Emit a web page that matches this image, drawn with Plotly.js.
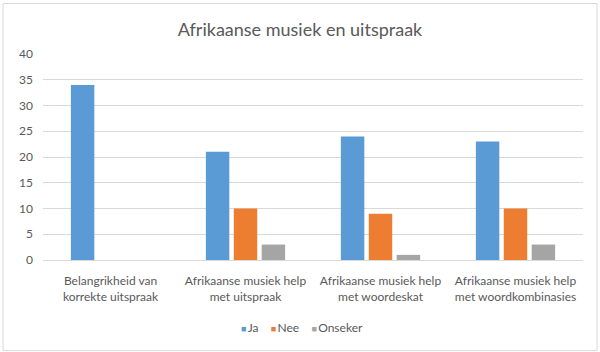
<!DOCTYPE html>
<html><head><meta charset="utf-8">
<script src="https://cdn.plot.ly/plotly-3.0.1.min.js"></script>
<style>html,body{margin:0;padding:0;background:#fff}#c{width:600px;height:352px}</style>
</head><body><div id="c"></div>
<script>
const categories = ["Belangrikheid van<br>korrekte uitspraak", "Afrikaanse musiek help<br>met uitspraak", "Afrikaanse musiek help<br>met woordeskat", "Afrikaanse musiek help<br>met woordkombinasies"];
const ja = [34, 21, 24, 23];
const nee = [0, 10, 9, 10];
const onseker = [0, 3, 1, 3];
const seriesNames = ["Ja", "Nee", "Onseker"];
const colors = ["#5B9BD5", "#ED7D31", "#A5A5A5"];
const yTicks = [0, 5, 10, 15, 20, 25, 30, 35, 40];

const font = "Lato, 'Open Sans', sans-serif";
const traces = [ja, nee, onseker].map((v, i) => ({
  type: "bar", x: categories, y: v, name: seriesNames[i],
  marker: {color: colors[i]}, hoverinfo: "none", showlegend: false
}));
const legendText = seriesNames.map((n, i) =>
  `<span style="color:${colors[i]};font-size:9px">■</span><span style="font-size:5px"> </span>${n}`).join("&nbsp;&nbsp;&nbsp;&nbsp;");
const layout = {
  width: 600, height: 352,
  margin: {l: 43, r: 17, t: 54, b: 92},
  paper_bgcolor: "#fff", plot_bgcolor: "#fff",
  title: {text: "Afrikaanse musiek en uitspraak", font: {family: font, size: 18, color: "#595959"}, x: 0.5, xanchor: "center", y: 0.915, yanchor: "middle"},
  barmode: "group", bargap: 0.38, bargroupgap: 0.16,
  xaxis: {tickfont: {family: font, size: 12, color: "#595959"}, showline: true, linecolor: "#D9D9D9", ticks: "", ticklabelstandoff: 10, fixedrange: true},
  yaxis: {range: [0, 40], tickvals: yTicks, tickfont: {family: font, size: 12, color: "#595959"}, gridcolor: "#D9D9D9", zeroline: false, showline: false, ticks: "", ticklabelstandoff: 9, fixedrange: true},
  annotations: [{xref: "paper", yref: "paper", x: 0.48, y: -0.33, xanchor: "center", yanchor: "middle", showarrow: false,
    text: legendText, font: {family: font, size: 12, color: "#595959"}}],
  shapes: [{type: "rect", xref: "paper", yref: "paper", x0: -0.074, x1: 1.026, y0: -0.44, y1: 1.245, line: {color: "#D9D9D9", width: 1}}]
};
Plotly.newPlot("c", traces, layout, {displayModeBar: false, staticPlot: true});
</script></body></html>
